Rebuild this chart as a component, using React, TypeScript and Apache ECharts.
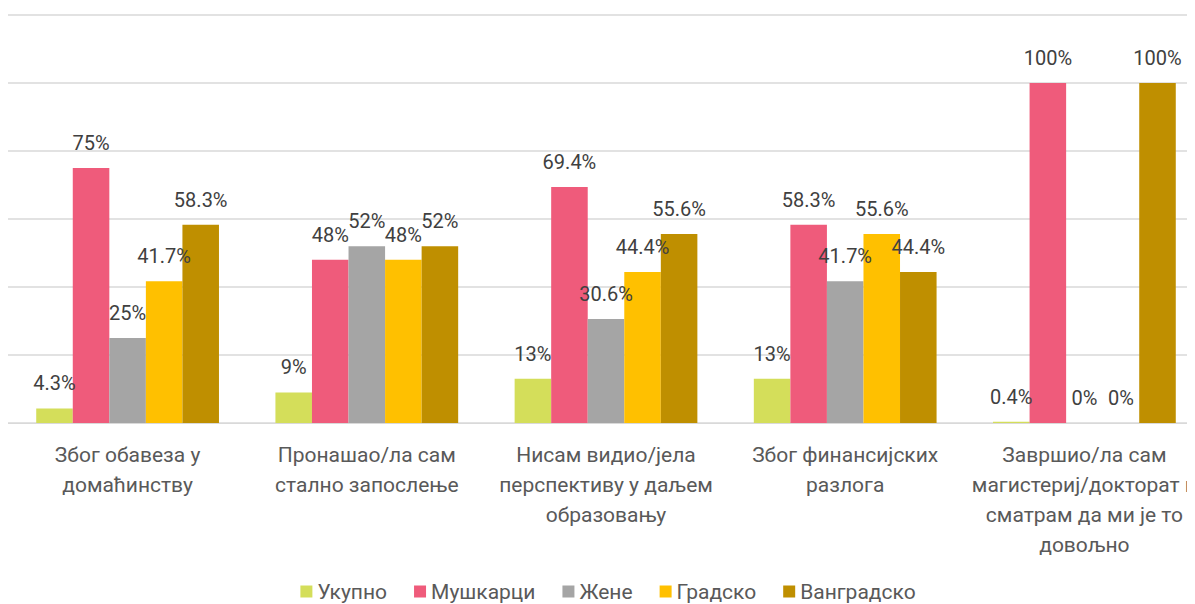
import React, { useEffect, useRef } from "react";
import * as echarts from "echarts";

const categories = [
  "Због обавеза у\nдомаћинству",
  "Пронашао/ла сам\nстално запослење",
  "Нисам видио/јела\nперспективу у даљем\nобразовању",
  "Због финансијских\nразлога",
  "Завршио/ла сам\nмагистериј/докторат и\nсматрам да ми је то\nдовољно",
];
const seriesNames = ["Укупно", "Мушкарци", "Жене", "Градско", "Ванградско"];
const ukupno = [4.3, 9, 13, 13, 0.4];
const muskarci = [75, 48, 69.4, 58.3, 100];
const zene = [25, 52, 30.6, 41.7, 0];
const gradsko = [41.7, 48, 44.4, 55.6, 0];
const vangradsko = [58.3, 52, 55.6, 44.4, 100];
const colors = ["#D4DE5A", "#EF5B7B", "#A5A5A5", "#FFC000", "#BF8F00"];

export default function App() {
  const ref = useRef<HTMLDivElement>(null);
  useEffect(() => {
    if (!ref.current) return;
    const chart = echarts.init(ref.current, undefined, { renderer: "svg" });
    const data = [ukupno, muskarci, zene, gradsko, vangradsko];
    chart.setOption({
      animation: false,
      textStyle: { fontFamily: "Roboto" },
      legend: {
        data: seriesNames,
        top: 568,
        left: "center",
        itemWidth: 12,
        itemHeight: 12,
        itemGap: 27,
        icon: "rect",
        textStyle: { fontSize: 21, color: "#595959", fontFamily: "Roboto" },
      },
      grid: { left: 0, top: 7, width: 1196, height: 408, containLabel: false },
      xAxis: {
        type: "category",
        data: categories,
        axisLine: { lineStyle: { color: "#D9D9D9", width: 1 } },
        axisTick: { show: false },
        axisLabel: {
          interval: 0,
          fontSize: 21,
          color: "#595959",
          lineHeight: 30,
          margin: 17,
          fontFamily: "Roboto",
        },
      },
      yAxis: {
        type: "value",
        min: 0,
        max: 120,
        interval: 20,
        axisLabel: { show: false },
        axisLine: { show: false },
        axisTick: { show: false },
        splitLine: { lineStyle: { color: "#D9D9D9", width: 1.5 } },
      },
      series: seriesNames.map((name, i) => ({
        name,
        type: "bar",
        data: data[i],
        barGap: "0%",
        barCategoryGap: "23.6%",
        itemStyle: { color: colors[i] },
        label: {
          show: true,
          position: "top",
          distance: 15,
          formatter: (p: any) => p.value + "%",
          fontSize: 20,
          color: "#404040",
          fontFamily: "Roboto",
        },
      })),
    });
    return () => chart.dispose();
  }, []);
  return (
    <div style={{ width: 1187, height: 596, overflow: "hidden" }}>
      <div ref={ref} style={{ width: 1200, height: 596 }} />
    </div>
  );
}
